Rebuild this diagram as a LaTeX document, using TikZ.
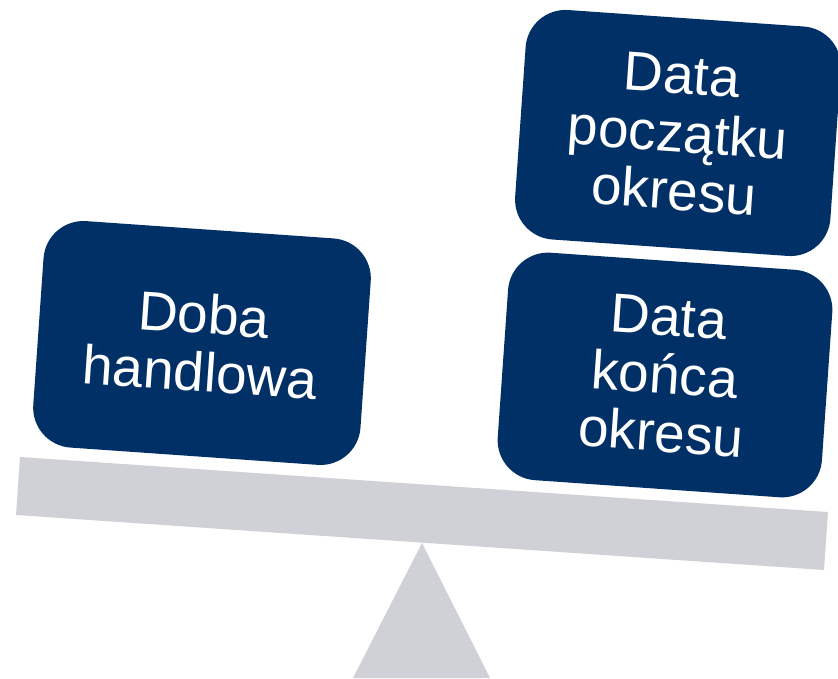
\documentclass[tikz,border=0pt]{standalone}
\usepackage{fontspec}
\setmainfont{Liberation Sans}
\usepackage{tikz}

\definecolor{navy}{RGB}{0,48,102}
\definecolor{beamgrey}{RGB}{208,209,214}

\tikzset{
  weight/.style={draw=none,fill=navy,text=white,rounded corners=40pt,rotate=-4,
    inner sep=0pt,align=center,font=\fontsize{55}{58}\selectfont},
}

\begin{document}
\begin{tikzpicture}[x=1pt,y=1pt,line join=round]
\path[use as bounding box] (0,0) rectangle (838,678);
% fulcrum and beam
\fill[beamgrey] (422,135) -- (490,0) -- (353,0) -- cycle;
\fill[beamgrey] (20,221) -- (828,166) -- (824,108) -- (16,163) -- cycle;
% weights
\node[weight,minimum width=328pt,minimum height=227pt] (doba) at (202,335) {Doba\\handlowa};
\node[weight,minimum width=316pt,minimum height=230pt] (poczatek) at (678,545) {Data\\początku\\okresu};
\node[weight,minimum width=325pt,minimum height=228pt] (koniec) at (665,303) {Data\\końca\\okresu};
\end{tikzpicture}
\end{document}
